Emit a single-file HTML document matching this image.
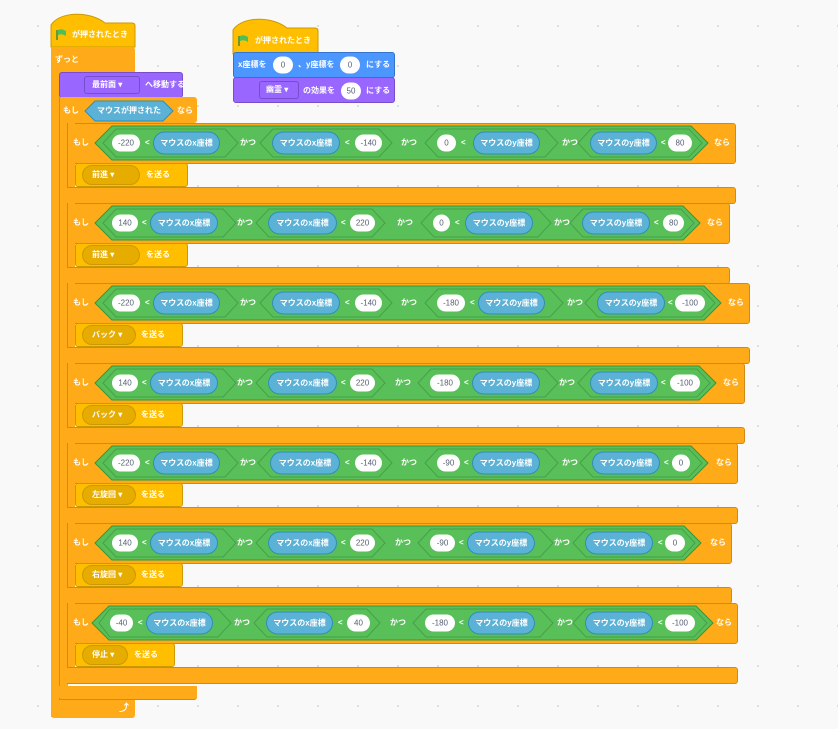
<!DOCTYPE html>
<html><head><meta charset="utf-8">
<style>
*{margin:0;padding:0;box-sizing:border-box}
body{width:838px;height:729px;overflow:hidden;position:relative;background:#f9f9f9;background-image:radial-gradient(#dcdcdc 1px,transparent 1.2px);background-size:40px 40px;background-position:18px 6px;font-family:"Liberation Sans","Noto Sans CJK JP",sans-serif;}
div,span,svg{position:absolute}
.orn{background:#ffab19}
.t{color:#fff;font-size:8px;font-weight:bold;white-space:nowrap;transform:translateY(-50%);line-height:12px}
.w{background:#fff;color:#575e75;font-size:8px;height:17px;border-radius:9px;text-align:center;line-height:17px;transform:translateY(-50%)}
.b{background:#5cb1d6;border:1px solid #2e8eb8;color:#fff;font-size:8px;font-weight:bold;height:23px;border-radius:12px;text-align:center;line-height:21px;transform:translateY(-50%);white-space:nowrap}
.ev{background:#ffbf00;border:1px solid #cc9900;border-radius:3px}
.dd{background:#e6ac00;border:1px solid #cc9900;color:#fff;font-size:8px;font-weight:bold;height:20px;border-radius:10px;line-height:18px;padding-left:9px;white-space:nowrap}
.row{left:0;width:838px;height:81px}
</style></head><body>

<!-- Hat 1 -->
<svg style="left:50px;top:13px" width="90" height="38"><path d="M1,12 C10,-2 40,-2 55,10 L82,10 Q85,10 85,13 L85,34 L1,34 Z" fill="#ffbf00" stroke="#cc9900"/></svg>
<svg style="left:56px;top:29px" width="12" height="12"><path d="M1,1 L1,11" stroke="#3d8a3d" stroke-width="1.5"/><path d="M2,1 Q6,-1 10,2 L10,7 Q6,4 2,6Z" fill="#4cbf56"/></svg>
<span class="t" style="left:72px;top:35px">が押されたとき</span>

<!-- forever -->
<div class="orn" style="left:51px;top:47px;width:84px;height:26px;border-radius:0 3px 0 0"></div>
<div class="orn" style="left:51px;top:47px;width:9px;height:670px"></div>
<div class="orn" style="left:51px;top:700px;width:84px;height:18px;border-radius:0 0 3px 3px"></div>
<span class="t" style="left:55px;top:60px">ずっと</span>
<span class="t" style="left:119px;top:709px;font-size:10px">⤴</span>

<!-- purple go to front -->
<div style="left:59px;top:72px;width:124px;height:26px;background:#9966ff;border:1px solid #774dcb;border-radius:3px"></div>
<div style="left:84px;top:76px;width:56px;height:18px;background:#9966ff;border:1px solid #774dcb;border-radius:3px;color:#fff;font-size:8px;font-weight:bold;line-height:16px;padding-left:7px">最前面 ▾</div>
<span class="t" style="left:145px;top:85px">へ移動する</span>

<!-- outer if -->
<div class="orn" style="left:59px;top:97px;width:138px;height:26px;border-radius:3px"></div>
<div class="orn" style="left:59px;top:97px;width:9px;height:603px;border-left:1px solid #cf8b17"></div>
<div class="orn" style="left:59px;top:686px;width:138px;height:14px;border-radius:0 0 3px 3px;border-bottom:1px solid #cf8b17"></div>
<span class="t" style="left:63px;top:111px">もし</span>
<svg style="left:84px;top:100px" width="92" height="22"><polygon points="1,11 11,1 79,1 89,11 79,21 11,21" fill="#5cb1d6" stroke="#2e8eb8"/></svg>
<span class="t" style="left:97px;top:111px">マウスが押された</span>
<span class="t" style="left:177px;top:111px">なら</span>

<!-- Hat 2 -->
<svg style="left:232px;top:18px" width="90" height="38"><path d="M1,12 C10,-2 40,-2 55,10 L83,10 Q86,10 86,13 L86,36 L1,36 Z" fill="#ffbf00" stroke="#cc9900"/></svg>
<svg style="left:238px;top:35px" width="12" height="12"><path d="M1,1 L1,11" stroke="#3d8a3d" stroke-width="1.5"/><path d="M2,1 Q6,-1 10,2 L10,7 Q6,4 2,6Z" fill="#4cbf56"/></svg>
<span class="t" style="left:255px;top:41px">が押されたとき</span>
<div style="left:233px;top:52px;width:162px;height:26px;background:#4c97ff;border:1px solid #3373cc;border-radius:3px"></div>
<span class="t" style="left:238px;top:65px">x座標を</span>
<div class="w" style="left:273px;top:65px;width:20px">0</div>
<span class="t" style="left:298px;top:65px">、y座標を</span>
<div class="w" style="left:340px;top:65px;width:20px">0</div>
<span class="t" style="left:366px;top:65px">にする</span>
<div style="left:233px;top:77px;width:162px;height:26px;background:#9966ff;border:1px solid #774dcb;border-radius:3px"></div>
<div style="left:259px;top:81px;width:40px;height:18px;background:#9966ff;border:1px solid #774dcb;border-radius:3px;color:#fff;font-size:8px;font-weight:bold;line-height:16px;padding-left:6px">幽霊 ▾</div>
<span class="t" style="left:303px;top:91px">の効果を</span>
<div class="w" style="left:341px;top:91px;width:20px">50</div>
<span class="t" style="left:366px;top:91px">にする</span>

<!-- ROW 1 -->
<div class="row" style="top:123px">
<div class="orn" style="left:67px;top:0;width:669px;height:41px;border-radius:3px;border:1px solid #cf8b17"></div>
<div class="orn" style="left:67px;top:0;width:8px;height:81px;border-left:1px solid #cf8b17"></div>
<div class="orn" style="left:67px;top:64px;width:669px;height:17px;border-radius:0 3px 3px 0;border:1px solid #cf8b17;border-left:none"></div>
<span class="t" style="left:73px;top:20px">もし</span>
<svg style="left:0;top:0" width="838" height="41">
<polygon points="95,20 112,3 691,3 708,20 691,37 112,37" fill="#59c059" stroke="#389438"/>
<polygon points="103,20 116,6 225,6 238,20 225,34 116,34" fill="#59c059" stroke="#46a046"/>
<polygon points="260,20 273,6 379,6 392,20 379,34 273,34" fill="#59c059" stroke="#46a046"/>
<polygon points="425,20 438,6 545,6 558,20 545,34 438,34" fill="#59c059" stroke="#46a046"/>
<polygon points="578,20 591,6 689,6 702,20 689,34 591,34" fill="#59c059" stroke="#46a046"/></svg>
<div class="w" style="left:112px;top:20px;width:28px">-220</div><span class="t" style="left:145px;top:20px">&lt;</span><div class="b" style="left:153px;top:20px;width:67px">マウスのx座標</div>
<span class="t" style="left:240px;top:20px">かつ</span>
<div class="b" style="left:272px;top:20px;width:68px">マウスのx座標</div><span class="t" style="left:345px;top:20px">&lt;</span><div class="w" style="left:355px;top:20px;width:27px">-140</div>
<span class="t" style="left:401px;top:20px">かつ</span>
<div class="w" style="left:437px;top:20px;width:19px">0</div><span class="t" style="left:461px;top:20px">&lt;</span><div class="b" style="left:473px;top:20px;width:67px">マウスのy座標</div>
<span class="t" style="left:562px;top:20px">かつ</span>
<div class="b" style="left:590px;top:20px;width:67px">マウスのy座標</div><span class="t" style="left:661px;top:20px">&lt;</span><div class="w" style="left:668px;top:20px;width:24px">80</div>
<span class="t" style="left:714px;top:20px">なら</span>
<div class="ev" style="left:75px;top:40px;width:113px;height:24px"></div>
<div class="dd" style="left:82px;top:42px;width:58px">前進 ▾</div><span class="t" style="left:146px;top:52px">を送る</span>
</div>

<!-- ROW 2 -->
<div class="row" style="top:203px">
<div class="orn" style="left:67px;top:0;width:663px;height:41px;border-radius:3px;border:1px solid #cf8b17"></div>
<div class="orn" style="left:67px;top:0;width:8px;height:81px;border-left:1px solid #cf8b17"></div>
<div class="orn" style="left:67px;top:64px;width:663px;height:17px;border-radius:0 3px 3px 0;border:1px solid #cf8b17;border-left:none"></div>
<span class="t" style="left:73px;top:20px">もし</span>
<svg style="left:0;top:0" width="838" height="41">
<polygon points="95,20 112,3 683,3 700,20 683,37 112,37" fill="#59c059" stroke="#389438"/>
<polygon points="103,20 116,6 223,6 236,20 223,34 116,34" fill="#59c059" stroke="#46a046"/>
<polygon points="256,20 269,6 372,6 385,20 372,34 269,34" fill="#59c059" stroke="#46a046"/>
<polygon points="421,20 434,6 538,6 551,20 538,34 434,34" fill="#59c059" stroke="#46a046"/>
<polygon points="570,20 583,6 681,6 694,20 681,34 583,34" fill="#59c059" stroke="#46a046"/></svg>
<div class="w" style="left:112px;top:20px;width:26px">140</div><span class="t" style="left:142px;top:20px">&lt;</span><div class="b" style="left:150px;top:20px;width:68px">マウスのx座標</div>
<span class="t" style="left:237px;top:20px">かつ</span>
<div class="b" style="left:268px;top:20px;width:69px">マウスのx座標</div><span class="t" style="left:341px;top:20px">&lt;</span><div class="w" style="left:350px;top:20px;width:25px">220</div>
<span class="t" style="left:397px;top:20px">かつ</span>
<div class="w" style="left:433px;top:20px;width:17px">0</div><span class="t" style="left:455px;top:20px">&lt;</span><div class="b" style="left:465px;top:20px;width:68px">マウスのy座標</div>
<span class="t" style="left:554px;top:20px">かつ</span>
<div class="b" style="left:582px;top:20px;width:68px">マウスのy座標</div><span class="t" style="left:654px;top:20px">&lt;</span><div class="w" style="left:663px;top:20px;width:21px">80</div>
<span class="t" style="left:707px;top:20px">なら</span>
<div class="ev" style="left:75px;top:40px;width:113px;height:24px"></div>
<div class="dd" style="left:82px;top:42px;width:58px">前進 ▾</div><span class="t" style="left:146px;top:52px">を送る</span>
</div>

<!-- ROW 3 -->
<div class="row" style="top:283px">
<div class="orn" style="left:67px;top:0;width:683px;height:41px;border-radius:3px;border:1px solid #cf8b17"></div>
<div class="orn" style="left:67px;top:0;width:8px;height:81px;border-left:1px solid #cf8b17"></div>
<div class="orn" style="left:67px;top:64px;width:683px;height:17px;border-radius:0 3px 3px 0;border:1px solid #cf8b17;border-left:none"></div>
<span class="t" style="left:73px;top:20px">もし</span>
<svg style="left:0;top:0" width="838" height="41">
<polygon points="95,20 112,3 704,3 721,20 704,37 112,37" fill="#59c059" stroke="#389438"/>
<polygon points="103,20 116,6 225,6 238,20 225,34 116,34" fill="#59c059" stroke="#46a046"/>
<polygon points="260,20 273,6 379,6 392,20 379,34 273,34" fill="#59c059" stroke="#46a046"/>
<polygon points="425,20 438,6 550,6 563,20 550,34 438,34" fill="#59c059" stroke="#46a046"/>
<polygon points="585,20 598,6 702,6 715,20 702,34 598,34" fill="#59c059" stroke="#46a046"/></svg>
<div class="w" style="left:112px;top:20px;width:28px">-220</div><span class="t" style="left:145px;top:20px">&lt;</span><div class="b" style="left:153px;top:20px;width:67px">マウスのx座標</div>
<span class="t" style="left:240px;top:20px">かつ</span>
<div class="b" style="left:272px;top:20px;width:68px">マウスのx座標</div><span class="t" style="left:345px;top:20px">&lt;</span><div class="w" style="left:355px;top:20px;width:27px">-140</div>
<span class="t" style="left:401px;top:20px">かつ</span>
<div class="w" style="left:437px;top:20px;width:28px">-180</div><span class="t" style="left:470px;top:20px">&lt;</span><div class="b" style="left:478px;top:20px;width:67px">マウスのy座標</div>
<span class="t" style="left:567px;top:20px">かつ</span>
<div class="b" style="left:597px;top:20px;width:68px">マウスのy座標</div><span class="t" style="left:668px;top:20px">&lt;</span><div class="w" style="left:675px;top:20px;width:30px">-100</div>
<span class="t" style="left:728px;top:20px">なら</span>
<div class="ev" style="left:75px;top:40px;width:108px;height:24px"></div>
<div class="dd" style="left:82px;top:42px;width:54px">バック ▾</div><span class="t" style="left:141px;top:52px">を送る</span>
</div>

<!-- ROW 4 -->
<div class="row" style="top:363px">
<div class="orn" style="left:67px;top:0;width:678px;height:41px;border-radius:3px;border:1px solid #cf8b17"></div>
<div class="orn" style="left:67px;top:0;width:8px;height:81px;border-left:1px solid #cf8b17"></div>
<div class="orn" style="left:67px;top:64px;width:678px;height:17px;border-radius:0 3px 3px 0;border:1px solid #cf8b17;border-left:none"></div>
<span class="t" style="left:73px;top:20px">もし</span>
<svg style="left:0;top:0" width="838" height="41">
<polygon points="95,20 112,3 699,3 716,20 699,37 112,37" fill="#59c059" stroke="#389438"/>
<polygon points="103,20 116,6 223,6 236,20 223,34 116,34" fill="#59c059" stroke="#46a046"/>
<polygon points="256,20 269,6 372,6 385,20 372,34 269,34" fill="#59c059" stroke="#46a046"/>
<polygon points="418,20 431,6 545,6 558,20 545,34 431,34" fill="#59c059" stroke="#46a046"/>
<polygon points="578,20 591,6 697,6 710,20 697,34 591,34" fill="#59c059" stroke="#46a046"/></svg>
<div class="w" style="left:112px;top:20px;width:26px">140</div><span class="t" style="left:142px;top:20px">&lt;</span><div class="b" style="left:150px;top:20px;width:68px">マウスのx座標</div>
<span class="t" style="left:237px;top:20px">かつ</span>
<div class="b" style="left:268px;top:20px;width:69px">マウスのx座標</div><span class="t" style="left:341px;top:20px">&lt;</span><div class="w" style="left:350px;top:20px;width:25px">220</div>
<span class="t" style="left:395px;top:20px">かつ</span>
<div class="w" style="left:430px;top:20px;width:30px">-180</div><span class="t" style="left:464px;top:20px">&lt;</span><div class="b" style="left:472px;top:20px;width:68px">マウスのy座標</div>
<span class="t" style="left:559px;top:20px">かつ</span>
<div class="b" style="left:590px;top:20px;width:68px">マウスのy座標</div><span class="t" style="left:661px;top:20px">&lt;</span><div class="w" style="left:670px;top:20px;width:30px">-100</div>
<span class="t" style="left:723px;top:20px">なら</span>
<div class="ev" style="left:75px;top:40px;width:108px;height:24px"></div>
<div class="dd" style="left:82px;top:42px;width:54px">バック ▾</div><span class="t" style="left:141px;top:52px">を送る</span>
</div>

<!-- ROW 5 -->
<div class="row" style="top:443px">
<div class="orn" style="left:67px;top:0;width:671px;height:41px;border-radius:3px;border:1px solid #cf8b17"></div>
<div class="orn" style="left:67px;top:0;width:8px;height:81px;border-left:1px solid #cf8b17"></div>
<div class="orn" style="left:67px;top:64px;width:671px;height:17px;border-radius:0 3px 3px 0;border:1px solid #cf8b17;border-left:none"></div>
<span class="t" style="left:73px;top:20px">もし</span>
<svg style="left:0;top:0" width="838" height="41">
<polygon points="95,20 112,3 691,3 708,20 691,37 112,37" fill="#59c059" stroke="#389438"/>
<polygon points="103,20 116,6 225,6 238,20 225,34 116,34" fill="#59c059" stroke="#46a046"/>
<polygon points="258,20 271,6 379,6 392,20 379,34 271,34" fill="#59c059" stroke="#46a046"/>
<polygon points="425,20 438,6 545,6 558,20 545,34 438,34" fill="#59c059" stroke="#46a046"/>
<polygon points="580,20 593,6 689,6 702,20 689,34 593,34" fill="#59c059" stroke="#46a046"/></svg>
<div class="w" style="left:112px;top:20px;width:28px">-220</div><span class="t" style="left:145px;top:20px">&lt;</span><div class="b" style="left:153px;top:20px;width:67px">マウスのx座標</div>
<span class="t" style="left:240px;top:20px">かつ</span>
<div class="b" style="left:270px;top:20px;width:70px">マウスのx座標</div><span class="t" style="left:345px;top:20px">&lt;</span><div class="w" style="left:355px;top:20px;width:27px">-140</div>
<span class="t" style="left:401px;top:20px">かつ</span>
<div class="w" style="left:437px;top:20px;width:23px">-90</div><span class="t" style="left:464px;top:20px">&lt;</span><div class="b" style="left:472px;top:20px;width:68px">マウスのy座標</div>
<span class="t" style="left:562px;top:20px">かつ</span>
<div class="b" style="left:592px;top:20px;width:68px">マウスのy座標</div><span class="t" style="left:664px;top:20px">&lt;</span><div class="w" style="left:672px;top:20px;width:18px">0</div>
<span class="t" style="left:716px;top:20px">なら</span>
<div class="ev" style="left:75px;top:40px;width:108px;height:24px"></div>
<div class="dd" style="left:82px;top:42px;width:54px">左旋回 ▾</div><span class="t" style="left:141px;top:52px">を送る</span>
</div>

<!-- ROW 6 -->
<div class="row" style="top:523px">
<div class="orn" style="left:67px;top:0;width:665px;height:41px;border-radius:3px;border:1px solid #cf8b17"></div>
<div class="orn" style="left:67px;top:0;width:8px;height:81px;border-left:1px solid #cf8b17"></div>
<div class="orn" style="left:67px;top:64px;width:665px;height:17px;border-radius:0 3px 3px 0;border:1px solid #cf8b17;border-left:none"></div>
<span class="t" style="left:73px;top:20px">もし</span>
<svg style="left:0;top:0" width="838" height="41">
<polygon points="95,20 112,3 684,3 701,20 684,37 112,37" fill="#59c059" stroke="#389438"/>
<polygon points="103,20 116,6 223,6 236,20 223,34 116,34" fill="#59c059" stroke="#46a046"/>
<polygon points="256,20 269,6 372,6 385,20 372,34 269,34" fill="#59c059" stroke="#46a046"/>
<polygon points="418,20 431,6 540,6 553,20 540,34 431,34" fill="#59c059" stroke="#46a046"/>
<polygon points="573,20 586,6 682,6 695,20 682,34 586,34" fill="#59c059" stroke="#46a046"/></svg>
<div class="w" style="left:112px;top:20px;width:26px">140</div><span class="t" style="left:142px;top:20px">&lt;</span><div class="b" style="left:150px;top:20px;width:68px">マウスのx座標</div>
<span class="t" style="left:237px;top:20px">かつ</span>
<div class="b" style="left:268px;top:20px;width:69px">マウスのx座標</div><span class="t" style="left:341px;top:20px">&lt;</span><div class="w" style="left:350px;top:20px;width:25px">220</div>
<span class="t" style="left:395px;top:20px">かつ</span>
<div class="w" style="left:430px;top:20px;width:25px">-90</div><span class="t" style="left:459px;top:20px">&lt;</span><div class="b" style="left:467px;top:20px;width:68px">マウスのy座標</div>
<span class="t" style="left:554px;top:20px">かつ</span>
<div class="b" style="left:585px;top:20px;width:68px">マウスのy座標</div><span class="t" style="left:658px;top:20px">&lt;</span><div class="w" style="left:665px;top:20px;width:20px">0</div>
<span class="t" style="left:710px;top:20px">なら</span>
<div class="ev" style="left:75px;top:40px;width:108px;height:24px"></div>
<div class="dd" style="left:82px;top:42px;width:54px">右旋回 ▾</div><span class="t" style="left:141px;top:52px">を送る</span>
</div>

<!-- ROW 7 -->
<div class="row" style="top:603px">
<div class="orn" style="left:67px;top:0;width:671px;height:41px;border-radius:3px;border:1px solid #cf8b17"></div>
<div class="orn" style="left:67px;top:0;width:8px;height:81px;border-left:1px solid #cf8b17"></div>
<div class="orn" style="left:67px;top:64px;width:671px;height:17px;border-radius:0 3px 3px 0;border:1px solid #cf8b17;border-left:none"></div>
<span class="t" style="left:73px;top:20px">もし</span>
<svg style="left:0;top:0" width="838" height="41">
<polygon points="92,20 109,3 696,3 713,20 696,37 109,37" fill="#59c059" stroke="#389438"/>
<polygon points="99,20 110,6 218,6 231,20 218,34 110,34" fill="#59c059" stroke="#46a046"/>
<polygon points="254,20 267,6 367,6 380,20 367,34 267,34" fill="#59c059" stroke="#46a046"/>
<polygon points="413,20 426,6 540,6 553,20 540,34 426,34" fill="#59c059" stroke="#46a046"/>
<polygon points="573,20 586,6 694,6 707,20 694,34 586,34" fill="#59c059" stroke="#46a046"/></svg>
<div class="w" style="left:110px;top:20px;width:23px">-40</div><span class="t" style="left:138px;top:20px">&lt;</span><div class="b" style="left:146px;top:20px;width:67px">マウスのx座標</div>
<span class="t" style="left:234px;top:20px">かつ</span>
<div class="b" style="left:266px;top:20px;width:67px">マウスのx座標</div><span class="t" style="left:338px;top:20px">&lt;</span><div class="w" style="left:347px;top:20px;width:23px">40</div>
<span class="t" style="left:390px;top:20px">かつ</span>
<div class="w" style="left:425px;top:20px;width:30px">-180</div><span class="t" style="left:459px;top:20px">&lt;</span><div class="b" style="left:468px;top:20px;width:67px">マウスのy座標</div>
<span class="t" style="left:557px;top:20px">かつ</span>
<div class="b" style="left:585px;top:20px;width:68px">マウスのy座標</div><span class="t" style="left:658px;top:20px">&lt;</span><div class="w" style="left:665px;top:20px;width:30px">-100</div>
<span class="t" style="left:716px;top:20px">なら</span>
<div class="ev" style="left:75px;top:40px;width:100px;height:24px"></div>
<div class="dd" style="left:82px;top:42px;width:46px">停止 ▾</div><span class="t" style="left:134px;top:52px">を送る</span>
</div>

</body></html>
